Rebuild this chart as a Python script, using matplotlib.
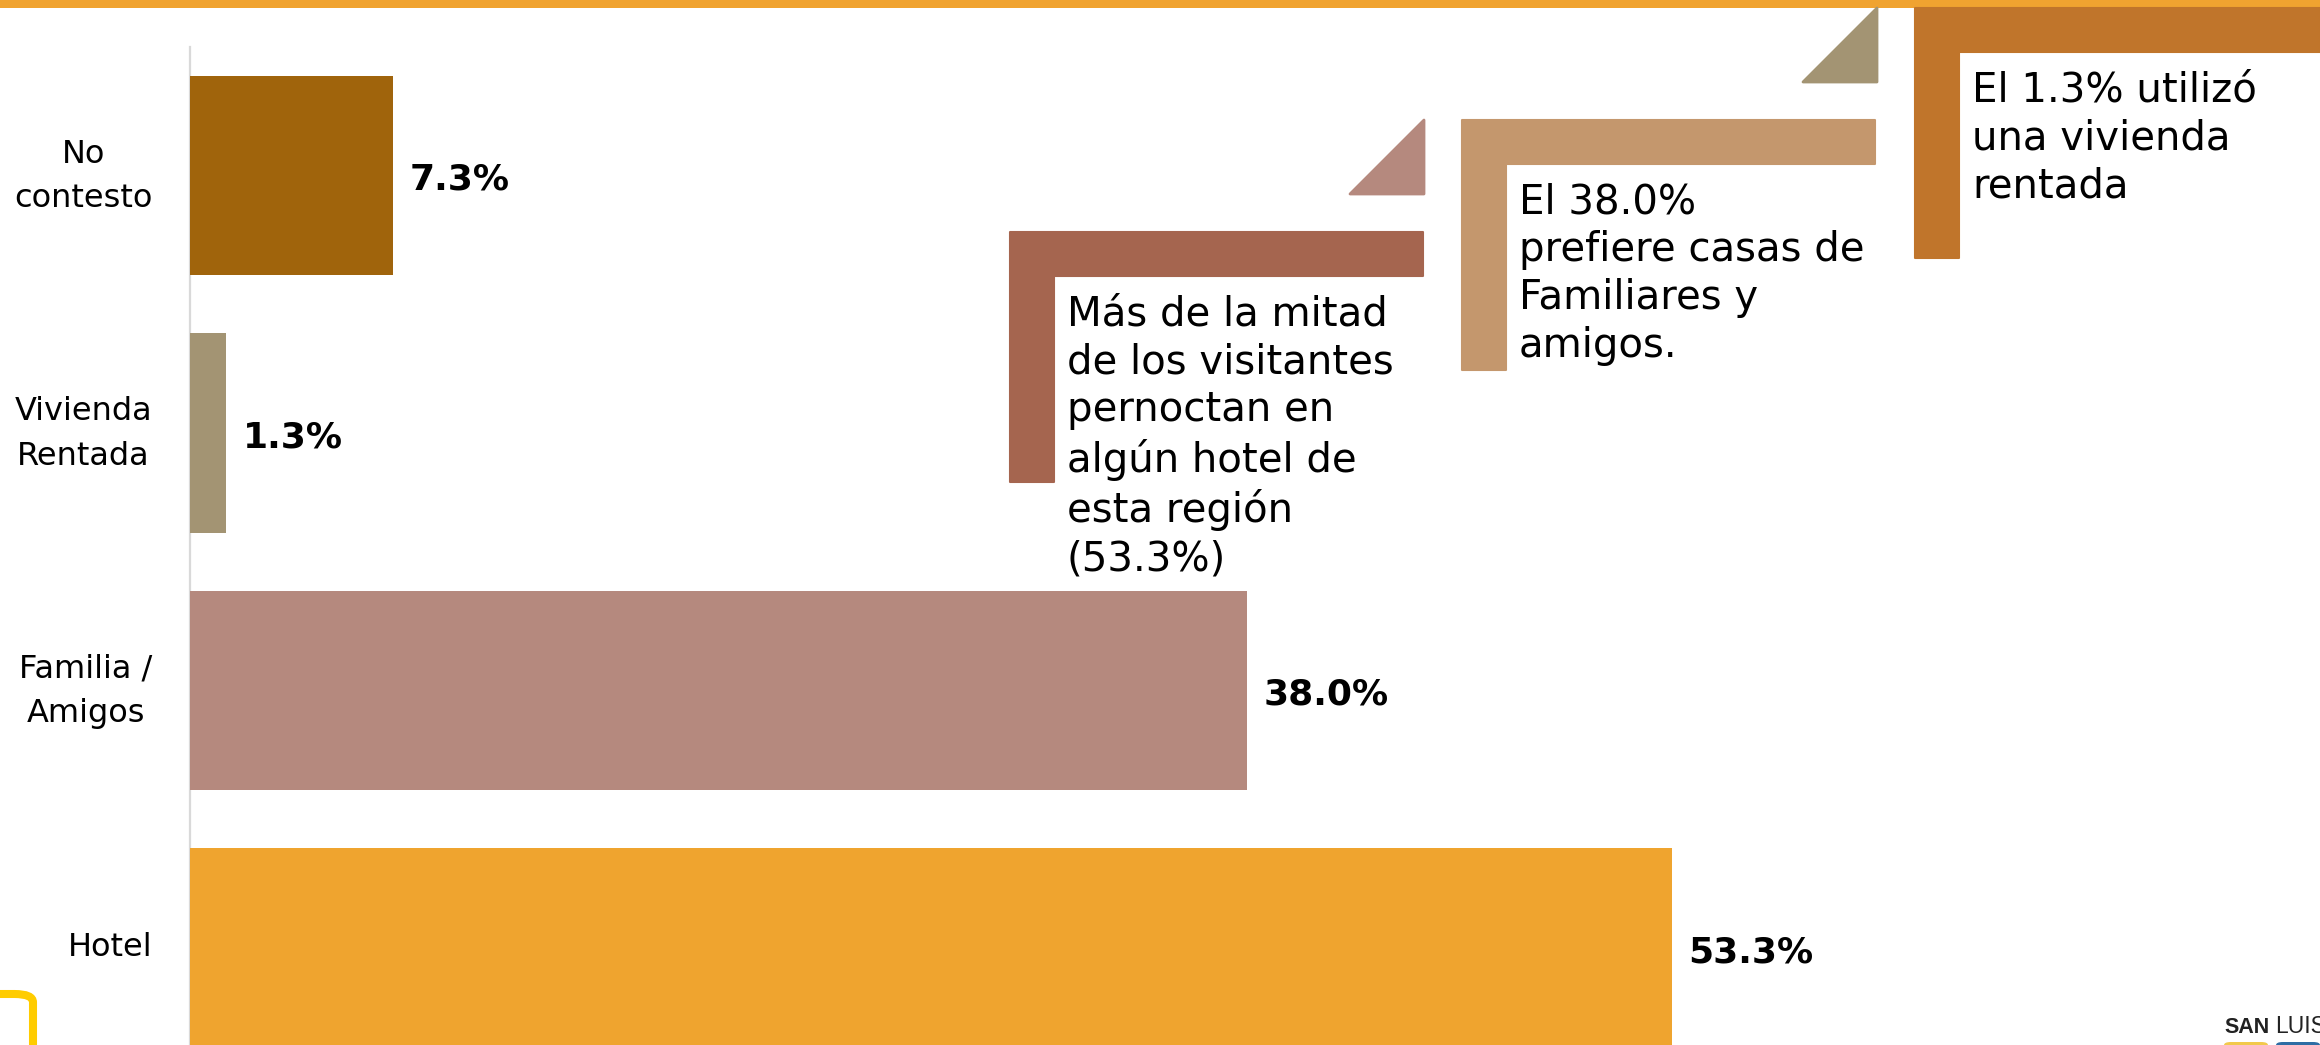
import matplotlib
matplotlib.use('Agg')
import matplotlib.pyplot as plt
import matplotlib.transforms as mtransforms
from matplotlib.patches import Polygon, Rectangle, FancyBboxPatch

# data (bottom to top)
categories = ['Hotel', 'Familia /\nAmigos', 'Vivienda\nRentada', 'No\ncontesto']
values = [53.3, 38.0, 1.3, 7.3]
value_labels = ['53.3%', '38.0%', '1.3%', '7.3%']
bar_colors = ['#EFA42F', '#B5897E', '#A39473', '#A0640C']

notes = [
    'Más de la mitad\nde los visitantes\npernoctan en\nalgún hotel de\nesta región\n(53.3%)',
    'El 38.0%\nprefiere casas de\nFamiliares y\namigos.',
    'El 1.3% utilizó\nuna vivienda\nrentada',
]
note_colors = ['#A5654F', '#C4976D', '#C0752B']
tri_colors = ['#B5897E', '#A39473']

W, H = 2320, 1045
fig = plt.figure(figsize=(W / 100, H / 100), dpi=100)
fig.patch.set_facecolor('white')


def fx(px):
    return px / W


def fy(py):
    return 1 - py / H


# bar area: value 0 at 190 px, 53.3 ends at 1672 px, rows 257.5 px apart
px_per_pct = (1672 - 190) / 53.3
step = 257.5
ax = fig.add_axes([fx(190), 0, 1 - fx(190), 1])
ax.set_xlim(0, (W - 190) / px_per_pct)
ax.set_ylim((948 - H) / step, 948 / step)
ax.patch.set_alpha(0)

ypos = list(range(len(categories)))
ax.barh(ypos, values, height=0.775, color=bar_colors, zorder=2)
ax.plot([0, 0], [ax.get_ylim()[0], 3.5], color='#D9D9D9', lw=1.6, zorder=1,
        clip_on=False)

ax.set_yticks(ypos)
ax.set_yticklabels(categories, fontsize=23, linespacing=1.55,
                   multialignment='center')
ax.tick_params(axis='y', length=0, pad=27)
ax.set_xticks([])
for s in ax.spines.values():
    s.set_visible(False)

# nudge the category labels up a little
for lab in ax.get_yticklabels():
    up = 6.5 if '\n' in lab.get_text() else 3
    lab.set_transform(lab.get_transform() +
                      mtransforms.ScaledTranslation(0, up / 72, fig.dpi_scale_trans))

for i, (v, lab) in enumerate(zip(values, value_labels)):
    ax.annotate(lab, (v, i), xytext=(12, -3), textcoords='offset points',
                va='center', ha='left', fontsize=26, fontweight='bold')

# top band
fig.add_artist(Rectangle((0, fy(8)), 1, 8 / H, transform=fig.transFigure,
                         facecolor='#F0A330', edgecolor='none'))

# callout brackets
origins = [(1010, 232), (1462, 120), (1915, 8)]
for (x0, y0), col, txt in zip(origins, note_colors, notes):
    w, t, h = 413, 44, 250
    pts = [(x0, y0), (x0 + w, y0), (x0 + w, y0 + t), (x0 + t, y0 + t),
           (x0 + t, y0 + h), (x0, y0 + h)]
    fig.add_artist(Polygon([(fx(a), fy(b)) for a, b in pts], closed=True,
                           transform=fig.transFigure, facecolor=col,
                           edgecolor=col, lw=1.5, joinstyle='round'))
    fig.text(fx(x0 + 57), fy(y0 + 62), txt, fontsize=29, linespacing=1.26,
             ha='left', va='top')

# small triangles
tri_pos = [(1424, 194), (1877, 82)]
for (xr, yb), col in zip(tri_pos, tri_colors):
    pts = [(xr - 74, yb), (xr, yb - 74), (xr, yb)]
    fig.add_artist(Polygon([(fx(a), fy(b)) for a, b in pts], closed=True,
                           transform=fig.transFigure, facecolor=col,
                           edgecolor=col, lw=2, joinstyle='round'))

# corner decorations (logo is cut by the right edge, as in the original)
fig.add_artist(FancyBboxPatch((fx(-40), fy(1080)), 73 / W, 86 / H,
                              boxstyle='round,pad=0,rounding_size=0.008',
                              transform=fig.transFigure, facecolor='white',
                              edgecolor='#FFCC00', lw=5.8))
fig.text(fx(2224), fy(1033), 'SAN', fontsize=15.5, fontweight='bold',
         family='Liberation Sans', color='#222222', ha='left', va='baseline')
fig.text(fx(2275), fy(1033), 'LUIS', fontsize=16.5,
         family='Liberation Sans', color='#222222', ha='left', va='baseline')
fig.add_artist(FancyBboxPatch((fx(2224), fy(1055)), 44 / W, 13 / H,
                              boxstyle='round,pad=0,rounding_size=0.003',
                              transform=fig.transFigure, facecolor='#F2C94C',
                              edgecolor='none'))
fig.add_artist(FancyBboxPatch((fx(2276), fy(1055)), 44 / W, 13 / H,
                              boxstyle='round,pad=0,rounding_size=0.003',
                              transform=fig.transFigure, facecolor='#2E6DA4',
                              edgecolor='none'))

fig.savefig('out.png', dpi=100)
